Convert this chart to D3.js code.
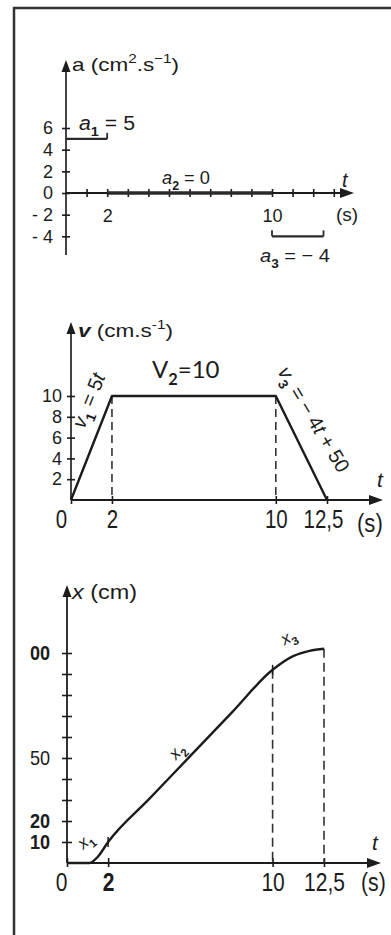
<!DOCTYPE html>
<html>
<head>
<meta charset="utf-8">
<script src="https://cdn.jsdelivr.net/npm/d3@7"></script>
<style>
  html, body { margin: 0; padding: 0; background: #fff; }
  svg { display: block; }
  text { font-family: "Liberation Sans", Arial, sans-serif; fill: #1c1c1c; }
</style>
</head>
<body>
<svg id="fig" width="391" height="935"></svg>
<script>
// ---- acceleration a(t), piecewise constant ----
const accStart = [0, 2, 10];
const accEnd = [2, 10, 12.5];
const accValue = [5, 0, -4];
const accTicksY = [-4, -2, 0, 2, 4, 6];
const accTicksX = [1, 2, 3, 4, 5, 6, 7, 8, 9, 10, 11, 12, 13];
const accLabelsX = [2, 10];

// ---- velocity v(t) ----
const velT = [0, 2, 10, 12.5];
const velV = [0, 10, 10, 0];
const velTicksY = [2, 4, 6, 8, 10];
const velLabelsX = [0, 2, 10, 12.5];
const velDashT = [2, 10];

// ---- position x(t) ----
const posT = [0, 1.1, 1.5, 2, 4, 6, 8, 10, 11, 11.8, 12.5];
const posX = [0, 0, 3, 10, 30.5, 51, 71.5, 92, 98.5, 101, 102];
const posTicksY = [10, 20, 30, 40, 50, 60, 70, 80, 90, 100];
const posLabelsY = [10, 20, 50, 100];
const posLabelText = ["10", "20", "50", "00"];
const posLabelsX = [0, 2, 10, 12.5];
const posDashT = [10, 12.5];

const INK = "#1c1c1c";
const REG = '"Liberation Sans", Arial, sans-serif';
const CALI = 'Lato, "Open Sans", "Liberation Sans", sans-serif';
const fmtComma = d => String(d).replace(".", ",");

const svg = d3.select("#fig");

// page frame (left and top rules)
svg.append("path")
  .attr("d", "M14,935 V8 H391")
  .attr("fill", "none").attr("stroke", "#333").attr("stroke-width", 2.5);

// ---------- helpers ----------
function arrowUp(g, x, yTip) {
  g.append("path")
    .attr("d", `M${x},${yTip} L${x - 4.5},${yTip + 12} L${x + 4.5},${yTip + 12} Z`)
    .attr("fill", INK);
}
function arrowRight(g, xTip, y) {
  g.append("path")
    .attr("d", `M${xTip},${y} L${xTip - 14},${y - 5} L${xTip - 14},${y + 5} Z`)
    .attr("fill", INK);
}
// writes text made of pieces: [string, kind] where kind may contain i / b / sub / sup
function rich(text, parts, size) {
  let shift = 0;
  parts.forEach(([s, kind]) => {
    const sp = text.append("tspan").text(s);
    let target = 0, fs = size;
    if (kind.includes("sub")) { target = size * 0.3; fs = size * 0.68; }
    if (kind.includes("sup")) { target = -size * 0.42; fs = size * 0.68; }
    sp.attr("dy", target - shift).attr("font-size", fs);
    if (kind.includes("i")) sp.attr("font-style", "italic");
    if (kind.includes("b")) sp.attr("font-weight", "bold");
    shift = target;
  });
  return text;
}
// horizontal scaling of glyph runs (condensed or widened lettering)
function squeeze(sel, f) {
  sel.each(function () {
    const w = this.getComputedTextLength();
    if (w > 0) d3.select(this).attr("textLength", w * f).attr("lengthAdjust", "spacingAndGlyphs");
  });
  return sel;
}
function fitWidth(sel, w) {
  return sel.attr("textLength", w).attr("lengthAdjust", "spacingAndGlyphs");
}
function label(g, x, y, parts, size, family, anchor) {
  const t = g.append("text").attr("x", x).attr("y", y)
    .attr("font-size", size).style("font-family", family || REG)
    .attr("text-anchor", anchor || "start");
  return rich(t, parts, size);
}
function rotLabel(g, x, y, angle, parts, size, family) {
  const t = g.append("text")
    .attr("transform", `translate(${x},${y}) rotate(${angle})`)
    .attr("text-anchor", "middle").attr("font-size", size)
    .style("font-family", family || REG);
  return rich(t, parts, size);
}
function styleAxis(g, size) {
  g.select(".domain").remove();
  g.selectAll(".tick line").attr("stroke", INK).attr("stroke-width", 1.6);
  g.selectAll(".tick text").attr("font-size", size).attr("fill", INK);
}

// =====================================================
// 1) acceleration
// =====================================================
const xA = d3.scaleLinear().domain([0, 10]).range([66, 272]);
const yA = d3.scaleLinear().domain([0, 6]).range([193, 128]);
const gA = svg.append("g");

gA.append("line").attr("x1", xA(0)).attr("x2", xA(0)).attr("y1", 66).attr("y2", 255)
  .attr("stroke", "#444").attr("stroke-width", 2);
arrowUp(gA, xA(0), 60);
gA.append("g").attr("transform", `translate(${xA(0)},0)`)
  .call(d3.axisLeft(yA).tickValues(accTicksY).tickSize(4).tickPadding(9)
    .tickFormat(d => d < 0 ? "- " + (-d) : d))
  .call(g => {
    styleAxis(g, 18);
    g.selectAll(".tick line").attr("x1", -4).attr("x2", 4);
  });

gA.append("line").attr("x1", xA(0)).attr("x2", 345).attr("y1", yA(0)).attr("y2", yA(0))
  .attr("stroke", INK).attr("stroke-width", 2);
arrowRight(gA, 354, yA(0));
gA.append("g").attr("transform", `translate(0,${yA(0)})`)
  .call(d3.axisBottom(xA).tickValues(accTicksX).tickSize(4).tickPadding(12)
    .tickFormat(d => accLabelsX.includes(d) ? d : ""))
  .call(g => {
    styleAxis(g, 18);
    g.selectAll(".tick line").attr("y1", -4).attr("y2", 4);
  });

accValue.forEach((a, i) => {
  const x0 = xA(accStart[i]), x1 = xA(accEnd[i]), y = yA(a);
  gA.append("line").attr("x1", x0).attr("x2", x1).attr("y1", y).attr("y2", y)
    .attr("stroke", "#2a2a2a").attr("stroke-width", a === 0 ? 3.5 : 2.4);
  if (a !== 0) {
    const caps = i === 0 ? [x1] : [x0, x1];
    caps.forEach(cx => gA.append("line").attr("x1", cx).attr("x2", cx)
      .attr("y1", y).attr("y2", y - 6).attr("stroke", "#2a2a2a").attr("stroke-width", 1.8));
  }
});

fitWidth(label(gA, 72, 71, [["a", ""], [" (cm", ""], ["2", "sup"], [".s", ""], ["−1", "sup"], [")", ""]], 19), 107);
fitWidth(label(gA, 79, 130, [["a", "i"], ["1", "sub"], [" = 5", ""]], 20), 56);
fitWidth(label(gA, 162, 184, [["a", "i"], ["2", "sub"], [" = 0", ""]], 19), 48);
fitWidth(label(gA, 260, 262, [["a", "i"], ["3", "sub"], [" = − 4", ""]], 19), 70);
label(gA, 342, 187, [["t", "i"]], 20);
label(gA, 336, 221, [["(s)", ""]], 19);

// =====================================================
// 2) velocity
// =====================================================
const xV = d3.scaleLinear().domain([0, 12.5]).range([71, 327]);
const yV = d3.scaleLinear().domain([0, 10]).range([500, 396]);
const gV = svg.append("g");

gV.append("line").attr("x1", xV(0)).attr("x2", xV(0)).attr("y1", 328).attr("y2", yV(0))
  .attr("stroke", "#444").attr("stroke-width", 2);
arrowUp(gV, xV(0), 322);
gV.append("g").attr("transform", `translate(${xV(0)},0)`)
  .call(d3.axisLeft(yV).tickValues(velTicksY).tickSize(4).tickPadding(5))
  .call(g => {
    styleAxis(g, 18);
    g.selectAll(".tick line").attr("x1", -4).attr("x2", 4);
  });

gV.append("line").attr("x1", xV(0)).attr("x2", 372).attr("y1", yV(0)).attr("y2", yV(0))
  .attr("stroke", INK).attr("stroke-width", 2);
arrowRight(gV, 383, yV(0));
gV.append("g").attr("transform", `translate(0,${yV(0)})`)
  .call(d3.axisBottom(xV).tickValues(velLabelsX).tickSize(4).tickPadding(6).tickFormat(fmtComma))
  .call(g => {
    styleAxis(g, 25);
    g.selectAll(".tick line").attr("y1", -4).attr("y2", 4);
    g.selectAll(".tick text").filter(d => d === 0).attr("dx", -10);
    g.selectAll(".tick text").filter(d => d === 12.5).attr("dx", -4);
    squeeze(g.selectAll(".tick text"), 0.82);
  });

velDashT.forEach(t => {
  gV.append("line").attr("x1", xV(t)).attr("x2", xV(t)).attr("y1", yV(10)).attr("y2", yV(0))
    .attr("stroke", "#333").attr("stroke-width", 1.6).attr("stroke-dasharray", "8,5");
});

gV.append("path")
  .datum(velT.map((t, i) => [t, velV[i]]))
  .attr("d", d3.line().x(d => xV(d[0])).y(d => yV(d[1])))
  .attr("fill", "none").attr("stroke", INK).attr("stroke-width", 2.4)
  .attr("stroke-linejoin", "round");

fitWidth(label(gV, 78, 337, [["v", "i b"], [" (cm.s", ""], ["-1", "sup"], [")", ""]], 19), 95);
label(gV, 152, 378, [["V", ""], ["2", "sub"], ["=10", ""]], 24, CALI);
rotLabel(gV, 95, 403, -68, [["v", "i"], ["1", "sub"], [" = 5", ""], ["t", "i"]], 20);
rotLabel(gV, 308, 423, 59, [["v", "i"], ["3", "sub"], [" = − 4", ""], ["t", "i"], [" + 50", ""]], 20);
label(gV, 377, 487, [["t", "i"]], 21);
squeeze(label(gV, 357, 532, [["(s)", ""]], 26), 0.85);

// =====================================================
// 3) position
// =====================================================
const xX = d3.scaleLinear().domain([0, 12.5]).range([67, 324]);
const yX = d3.scaleLinear().domain([0, 100]).range([863, 653]);
const gX = svg.append("g");

gX.append("line").attr("x1", xX(0)).attr("x2", xX(0)).attr("y1", 590).attr("y2", yX(0))
  .attr("stroke", "#333").attr("stroke-width", 2);
arrowUp(gX, xX(0), 585);
gX.append("g").attr("transform", `translate(${xX(0)},0)`)
  .call(d3.axisLeft(yX).tickValues(posTicksY).tickSize(5).tickPadding(12)
    .tickFormat(d => { const k = posLabelsY.indexOf(d); return k < 0 ? "" : posLabelText[k]; }))
  .call(g => {
    styleAxis(g, 21);
    g.selectAll(".tick line").attr("x1", -5).attr("x2", 5);
    g.selectAll(".tick text").attr("font-weight", d => d === 50 ? "normal" : "bold");
    squeeze(g.selectAll(".tick text"), 0.86);
  });

gX.append("line").attr("x1", xX(0)).attr("x2", 370).attr("y1", yX(0)).attr("y2", yX(0))
  .attr("stroke", INK).attr("stroke-width", 2);
arrowRight(gX, 381, yX(0));
gX.append("g").attr("transform", `translate(0,${yX(0)})`)
  .call(d3.axisBottom(xX).tickValues(posLabelsX).tickSize(4).tickPadding(6).tickFormat(fmtComma))
  .call(g => {
    styleAxis(g, 25);
    g.selectAll(".tick line").attr("y1", -5).attr("y2", 4);
    g.selectAll(".tick text").filter(d => d === 0).attr("dx", -6);
    g.selectAll(".tick text").filter(d => d === 2).attr("font-weight", "bold");
    squeeze(g.selectAll(".tick text"), 0.84);
  });

const posLine = d3.line().x(d => xX(d[0])).y(d => yX(d[1])).curve(d3.curveMonotoneX);
const posPts = posT.map((t, i) => [t, posX[i]]);

posDashT.forEach(t => {
  const k = posT.indexOf(t);
  gX.append("line").attr("x1", xX(t)).attr("x2", xX(t)).attr("y1", yX(posX[k])).attr("y2", yX(0))
    .attr("stroke", "#333").attr("stroke-width", 1.6).attr("stroke-dasharray", "9,5");
});

gX.append("path").datum(posPts).attr("d", posLine)
  .attr("fill", "none").attr("stroke", INK).attr("stroke-width", 2.4);

// phase boundaries marked across the curve
[2, 10].forEach(t => {
  const k = posT.indexOf(t);
  gX.append("line").attr("x1", xX(t)).attr("x2", xX(t))
    .attr("y1", yX(posX[k]) - 5).attr("y2", yX(posX[k]) + 5)
    .attr("stroke", INK).attr("stroke-width", 1.5);
});

fitWidth(label(gX, 72, 599, [["x", "i"], [" (cm)", ""]], 20), 65);
rotLabel(gX, 89, 845, -40, [["x", "i"], ["1", "sub"]], 17);
rotLabel(gX, 181, 755, -48, [["x", "i"], ["2", "sub"]], 17);
rotLabel(gX, 291, 642, -28, [["x", "i"], ["3", "sub"]], 17);
label(gX, 372, 850, [["t", "i"]], 21);
squeeze(label(gX, 361, 891, [["(s)", ""]], 25), 0.85);
</script>
</body>
</html>
